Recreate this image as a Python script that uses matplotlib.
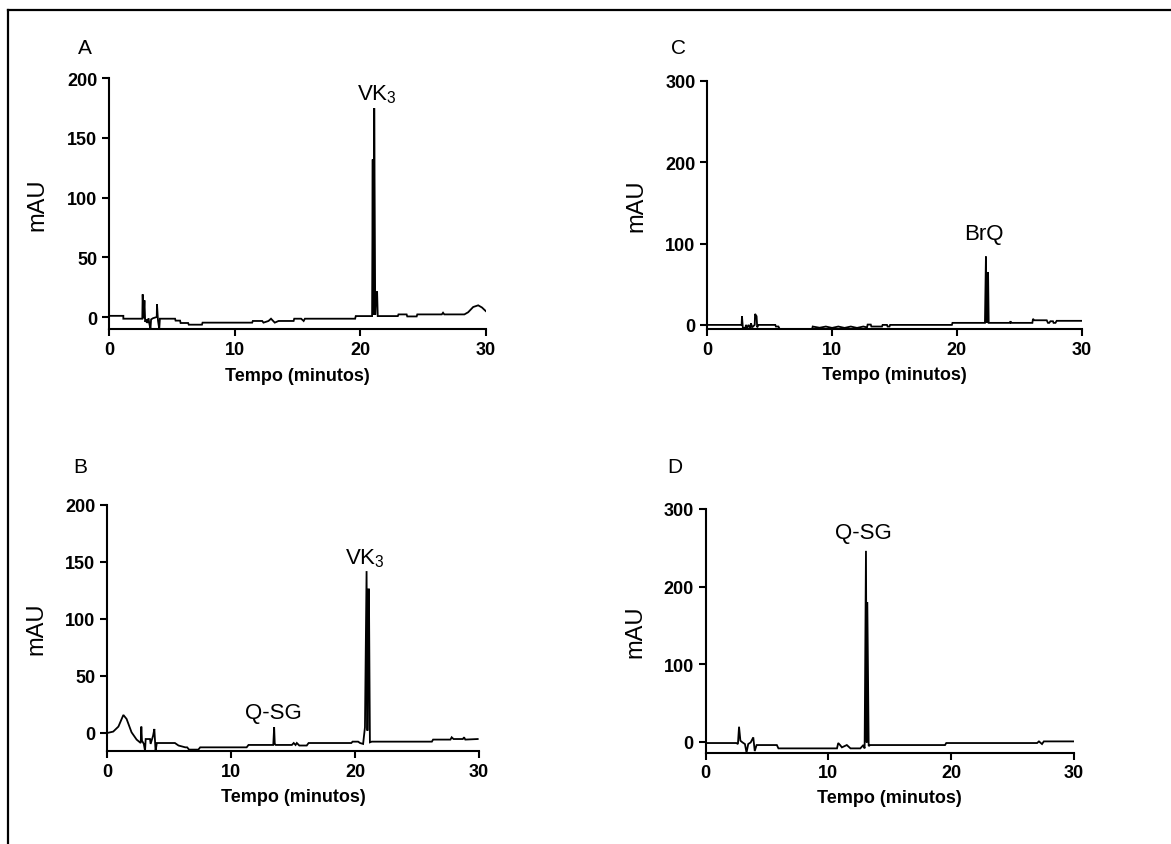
import matplotlib
matplotlib.use('Agg')
import matplotlib.pyplot as plt
from matplotlib.lines import Line2D
import numpy as np

plt.rcParams['font.family'] = ['Liberation Sans', 'DejaVu Sans']
plt.rcParams['mathtext.fontset'] = 'custom'
plt.rcParams['mathtext.rm'] = 'Liberation Sans'
plt.rcParams['mathtext.default'] = 'rm'

# chromatogram traces: (time [min], signal [mAU])
t_a = [0, 1.14, 1.14, 2.65, 2.68, 2.75, 2.82, 2.88, 3.0, 3.05, 3.15, 3.2, 3.3, 3.35, 3.5, 3.8,
       3.82, 3.9, 4.0, 4.05, 5.26, 5.3, 5.66, 5.7, 6.3, 6.35, 7.4, 7.45, 11.4, 11.45, 12.2, 12.3,
       12.7, 12.9, 13.2, 13.5, 14.7, 14.75, 15.3, 15.5, 15.6, 19.6, 19.65, 20.95, 21.0, 21.03,
       21.06, 21.09, 21.12, 21.2, 21.27, 21.35, 21.4, 23.0, 23.05, 23.7, 23.75, 24.5, 24.55,
       26.5, 26.6, 26.7, 28.3, 28.6, 29.0, 29.4, 29.7, 30]
v_a = [1, 1, -1.4, -1.4, 19, -1, 14, -4, -2, -5, -1, -5, -10, -2, -1, 0,
       10.6, -3, -10, -1.4, -1.4, -3, -3, -5, -5, -6.4, -6.4, -4.7, -4.7, -3.3, -3.3, -4.7,
       -3.3, -1.4, -4.7, -3.3, -3.3, -1.4, -1.4, -3.3, -1.4, -1.4, 0.8, 0.8, 132, 2,
       132, 2, 175, 2, 21, 21, 0.8, 0.8, 2.2, 2.2, 0.5, 0.5, 2.2,
       2.2, 3.6, 2.2, 2.2, 4, 8.4, 9.8, 8, 5]

t_c = [0, 2.75, 2.78, 2.85, 3.05, 3.1, 3.2, 3.3, 3.45, 3.5, 3.6, 3.8, 3.83, 3.95, 4.0, 4.1,
       5.45, 5.5, 5.7, 5.8, 8.4, 8.45, 9.0, 9.5, 10.0, 10.5, 11.0, 11.5, 12.0, 12.5, 12.8,
       12.85, 13.1, 13.15, 14.0, 14.05, 14.4, 14.45, 14.6, 14.65, 19.6, 19.65, 22.25, 22.33,
       22.37, 22.42, 22.46, 22.5, 22.55, 24.25, 24.3, 24.35, 26.05, 26.1, 26.2, 27.2, 27.3,
       27.4, 27.5, 27.7, 27.75, 27.9, 28.0, 30]
v_c = [0, 0, 10.6, -3.7, -3.7, 0, -4, 0, -4, 2, -3, 0, 13.5, 10.6, -3, 0,
       0, -2, -2, -5, -5, -2, -3.5, -2, -3.7, -2, -3.7, -2, -3.7, -2, -3,
       0.4, 0.4, -2, -2, 0, 0, -2, -2, 0, 0, 2.5, 2.5, 84,
       3, 65, 3, 65, 2.5, 2.5, 4.5, 2.5, 2.5, 7.4, 5.7, 5.7, 2.5,
       2.5, 4.5, 4.5, 2.5, 2.5, 5, 5]

t_b = [0, 0.48, 0.9, 1.3, 1.56, 1.96, 2.37, 2.7, 2.75, 2.8, 2.95, 3.05, 3.1, 3.45, 3.5, 3.7,
       3.8, 3.9, 4.0, 5.46, 5.75, 6.3, 6.45, 6.6, 7.35, 7.5, 11.25, 11.4, 13.4, 13.47, 13.52,
       13.6, 14.9, 15.05, 15.2, 15.3, 15.5, 16.1, 16.25, 19.7, 19.8, 20.25, 20.4, 20.65, 20.8,
       20.93, 21.0, 21.08, 21.12, 21.2, 21.35, 26.2, 26.3, 27.7, 27.8, 27.95, 28.7, 28.8,
       28.9, 29.9]
v_b = [0, 1.2, 5.6, 15.8, 12.3, 0.6, -5.8, -8.8, 5.6, -6.7, -9.6, -15.8, -5.3, -5.3, -9.6, -2.3,
       3.5, -15.8, -8.8, -8.8, -11, -12.6, -12.6, -14.6, -14.6, -12.6, -12.6, -10.5, -10.5, 5, -9.5,
       -10.5, -10.5, -8.8, -10.5, -8.8, -11, -11, -8.8, -8.8, -7.6, -7.6, -8.8, -9.6, 5,
       142, 2, 126, 126, -8.2, -7.6, -7.6, -5.8, -5.8, -3.8, -5.3, -5.3, -3.8,
       -5.8, -5.3]

t_d = [0, 2.5, 2.63, 2.72, 2.83, 3.0, 3.2, 3.33, 3.47, 3.67, 3.88, 4.0, 4.15, 5.8, 5.93,
       10.7, 10.8, 10.95, 11.1, 11.5, 11.8, 12.6, 12.85, 12.95, 13.06, 13.12, 13.17, 13.28,
       13.4, 19.5, 19.6, 27.0, 27.15, 27.4, 27.55, 30]
v_d = [-1.7, -1.7, -3, 19.3, 1.3, -0.9, -3, -14, -3, -0.9, 5.6, -12, -4.3, -4.3, -8.6,
       -8.6, -1.7, -4.3, -7.3, -4.3, -8.6, -8.6, -4.3, -8.6, 246, -1, 180, -5.6,
       -4.3, -4.3, -1.7, -1.7, 0.4, -3, 0.4, 0.4]

panels = [
    # letter, t, v, ylim, yticks, axes rect, peak labels (text, t, v)
    ('A', t_a, v_a, (-10, 200), [0, 50, 100, 150, 200], [0.0931, 0.6095, 0.3217, 0.2967],
     [('VK$_3$', 21.3, 187)]),
    ('C', t_c, v_c, (-5, 300), [0, 100, 200, 300], [0.6040, 0.6095, 0.3197, 0.2938],
     [('BrQ', 22.2, 112)]),
    ('B', t_b, v_b, (-16, 200), [0, 50, 100, 150, 200], [0.0916, 0.1098, 0.3174, 0.2914],
     [('Q-SG', 13.4, 18), ('VK$_3$', 20.8, 154)]),
    ('D', t_d, v_d, (-14, 300), [0, 100, 200, 300], [0.6026, 0.1082, 0.3145, 0.2883],
     [('Q-SG', 12.85, 270)]),
]
letter_pos = {'A': (85, 48), 'C': (678, 48), 'B': (80, 468), 'D': (675, 468)}

W, H = 1171, 845
fig = plt.figure(figsize=(W / 100, H / 100), dpi=100)

for letter, t, v, ylim, yticks, rect, peaks in panels:
    ax = fig.add_axes(rect)
    ax.plot(t, v, color='black', lw=1.3, solid_joinstyle='miter')
    ax.set_xlim(0, 30)
    ax.set_ylim(*ylim)
    ax.set_xticks([0, 10, 20, 30])
    ax.set_yticks(yticks)
    for side in ['top', 'right']:
        ax.spines[side].set_visible(False)
    for side in ['left', 'bottom']:
        ax.spines[side].set_linewidth(1.5)
    ax.tick_params(direction='out', length=5, width=1.5, labelsize=13, pad=3.5)
    for lab in ax.get_xticklabels() + ax.get_yticklabels():
        lab.set_fontweight('bold')
    ax.set_ylabel('mAU', fontsize=17)
    ax.yaxis.set_label_coords(-0.16, 0.5)
    ax.set_xlabel('Tempo (minutos)', fontsize=13, fontweight='bold', va='center')
    ax.xaxis.set_label_coords(0.5, -0.185)
    for txt, tx, ty in peaks:
        ax.text(tx, ty, txt, fontsize=16, ha='center', va='center', clip_on=False)
    lx, ly = letter_pos[letter]
    fig.text(lx / W, 1 - ly / H, letter, fontsize=15, ha='center', va='center')

# frame around the figure (cut off at right and bottom)
fig.add_artist(Line2D([7.5 / W, 7.5 / W], [0, 1 - 11 / H], color='black', lw=1.6))
fig.add_artist(Line2D([7.5 / W, 1], [1 - 11 / H, 1 - 11 / H], color='black', lw=1.6))

fig.savefig('out.png', dpi=100)
